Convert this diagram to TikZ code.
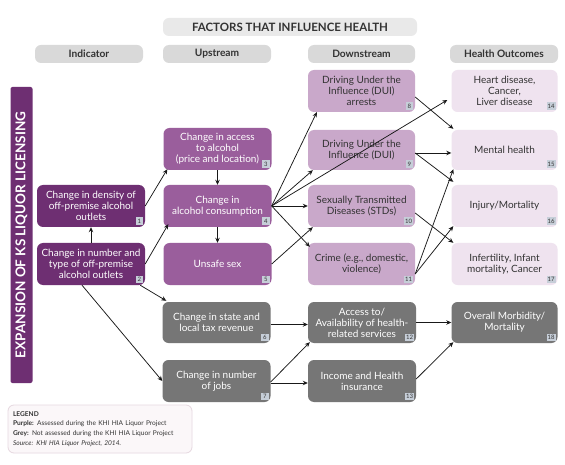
\documentclass[tikz,border=0pt]{standalone}
\usepackage{fontspec}
\setmainfont{Lato}
\usetikzlibrary{arrows.meta,calc}
\definecolor{dpurp}{HTML}{6E2F72}
\definecolor{mpurp}{HTML}{9A5E9C}
\definecolor{lpurp}{HTML}{C9A8CA}
\definecolor{vlpurp}{HTML}{EFE3EF}
\definecolor{gbox}{HTML}{767676}
\definecolor{hdr}{HTML}{D9D9D9}
\definecolor{ttl}{HTML}{E9E9E9}
\definecolor{tagc}{HTML}{C6CED8}
\definecolor{txt}{HTML}{333333}
\definecolor{legb}{HTML}{FBF7F9}
\definecolor{legd}{HTML}{E6D8E0}
\newcommand{\numtag}[2]{\node[tagst] (t#1) at ($(#1.south east)+(-2,-2)$) {#2};}
\begin{document}
\begin{tikzpicture}[x=1pt,y=-1pt,
  box/.style={rounded corners=6pt, minimum height=42pt, inner sep=1pt, align=center,
    font=\fontsize{10}{11}\selectfont},
  dbox/.style={box, fill=dpurp, text=white, minimum width=108pt},
  mbox/.style={box, fill=mpurp, text=white, minimum width=108pt},
  gboxs/.style={box, fill=gbox, text=white, minimum width=108pt},
  lbox/.style={box, fill=lpurp, text=txt, minimum width=107pt},
  vbox/.style={box, fill=vlpurp, text=txt, minimum width=106pt},
  hdrst/.style={rounded corners=6pt, fill=hdr, text=txt, minimum height=18pt, inner sep=0pt,
    font=\fontsize{10.2}{11}\selectfont\bfseries},
  tagst/.style={anchor=south east, fill=tagc, text=txt, inner sep=0.8pt, minimum size=7.5pt,
    font=\fontsize{6}{6.5}\selectfont},
  arr/.style={draw=black!90, line width=0.75pt, -{Stealth[length=5pt,width=4.5pt]}}
]
\useasboundingbox (0,0) rectangle (565,465);
\fill[white] (0,0) rectangle (565,465);

% title and headers
\node[hdrst, fill=ttl, minimum width=254pt, font=\fontsize{11.5}{12}\selectfont\bfseries] (title) at (290,27) {FACTORS THAT INFLUENCE HEALTH};
\node[hdrst, minimum width=108pt] (h1) at (89,54) {Indicator};
\node[hdrst, minimum width=108pt] (h2) at (217,54) {Upstream};
\node[hdrst, minimum width=107pt] (h3) at (361.5,54) {Downstream};
\node[hdrst, minimum width=108pt] (h4) at (504,54) {Health Outcomes};

% side bar
\node[rotate=90, fill=dpurp, text=white, rounded corners=2pt, minimum width=296pt, minimum height=22pt,
  inner sep=0pt, font=\fontsize{13.5}{14}\selectfont\bfseries] (bar) at (21.5,235) {EXPANSION OF KS LIQUOR LICENSING};

% indicator
\node[dbox] (n1) at (91,206) {Change in density of\\off-premise alcohol\\outlets};
\node[dbox] (n2) at (91,264) {Change in number and\\type of off-premise\\alcohol outlets};
% upstream
\node[mbox] (n3) at (217.5,149) {Change in access\\to alcohol\\(price and location)};
\node[mbox] (n4) at (217.5,206) {Change in\\alcohol consumption};
\node[mbox] (n5) at (217.5,264) {Unsafe sex};
\node[gboxs, minimum height=41pt] (n6) at (216.5,322.5) {Change in state and\\local tax revenue};
\node[gboxs] (n7) at (216.5,381) {Change in number\\of jobs};
% downstream
\node[lbox] (n8) at (361.5,91) {Driving Under the\\Influence (DUI)\\arrests};
\node[lbox, minimum height=40pt] (n9) at (361.5,150) {Driving Under the\\Influence (DUI)};
\node[lbox] (n10) at (361.5,206) {Sexually Transmitted\\Diseases (STDs)};
\node[lbox] (n11) at (361.5,264) {Crime (e.g., domestic,\\violence)};
\node[gboxs, minimum width=108pt, minimum height=41pt] (n12) at (362,322.5) {Access to/\\Availability of health-\\related services};
\node[gboxs, minimum width=108pt] (n13) at (362,381) {Income and Health\\insurance};
% outcomes
\node[vbox] (n14) at (504.5,91) {Heart disease,\\Cancer,\\Liver disease};
\node[vbox, minimum height=40pt] (n15) at (504.5,150) {Mental health};
\node[vbox] (n16) at (504.5,206) {Injury/Mortality};
\node[vbox] (n17) at (504.5,264) {Infertility, Infant\\mortality, Cancer};
\node[gboxs, minimum width=106pt, minimum height=41pt] (n18) at (504.5,322.5) {Overall Morbidity/\\Mortality};

% number tags
\numtag{n1}{1}
\numtag{n2}{2}
\numtag{n3}{3}
\numtag{n4}{4}
\numtag{n5}{5}
\numtag{n6}{6}
\numtag{n7}{7}
\numtag{n8}{8}
\numtag{n9}{9}
\numtag{n10}{10}
\numtag{n11}{11}
\numtag{n12}{12}
\numtag{n13}{13}
\numtag{n14}{14}
\numtag{n15}{15}
\numtag{n16}{16}
\numtag{n17}{17}
\numtag{n18}{18}

% legend
\node[draw=legd, fill=legb, line width=0.8pt, rounded corners=6pt, minimum width=184pt, minimum height=48pt,
  text width=174pt, align=left, inner sep=0pt, text=txt, font=\fontsize{6.6}{9.8}\selectfont] (legend) at (100,429)
  {\textbf{LEGEND}\\\textbf{Purple:} Assessed during the KHI HIA Liquor Project\\\textbf{Grey:} Not assessed during the KHI HIA Liquor Project\\\textit{Source: KHI HIA Liquor Project, 2014.}};

% connectors
\draw[arr] (n2.north) -- (n1.south);
\draw[arr] (n1.east) -- ($(n3.south west)+(4,-1)$);
\draw[arr] (n2.east) -- ($(n4.south west)+(5,-3)$);
\draw[arr] ($(n2.south east)+(-5,0)$) -- ($(n6.north west)+(4,-1)$);
\draw[arr] ($(n2.south)+(-9,0)$) -- (n7.west);
\draw[arr] (n3.south) -- (n4.north);
\draw[arr] (n4.south) -- (n5.north);
\draw[arr] (n4.east) -- ($(n8.south west)+(9,0)$);
\draw[arr] (n4.east) -- ($(n9.south west)+(5,0)$);
\draw[arr] (n4.east) -- ($(n14.west)+(-4,9)$);
\draw[arr] (n4.east) -- (n10.west);
\draw[arr] (n4.east) -- ($(n11.north west)+(2,4)$);
\draw[arr] (n5.east) -- ($(n10.south west)+(5,0)$);
\draw[arr] ($(n8.east)+(0,6)$) -- ($(n15.north west)+(2,-1)$);
\draw[arr] ($(n9.east)+(0,3)$) -- ($(n15.west)+(0,3)$);
\draw[arr] ($(n9.east)+(0,3)$) -- ($(n16.north west)+(2,-3)$);
\draw[arr] ($(n10.east)+(0,7)$) -- ($(n17.north west)+(2,0)$);
\draw[arr] ($(n11.east)+(0,10)$) -- ($(n15.south west)+(2,-1)$);
\draw[arr] ($(n11.east)+(0,10)$) -- ($(n16.south west)+(2,-1)$);
\draw[arr] ($(n6.east)+(0,2)$) -- ($(n12.west)+(0,2)$);
\draw[arr] ($(n7.east)+(0,1)$) -- ($(n12.south west)+(2,-1)$);
\draw[arr] ($(n7.east)+(0,2)$) -- ($(n13.west)+(0,2)$);
\draw[arr] (n12.east) -- (n18.west);
\draw[arr] ($(n13.east)+(0,-2)$) -- ($(n18.south west)+(2,-1)$);
\end{tikzpicture}
\end{document}
